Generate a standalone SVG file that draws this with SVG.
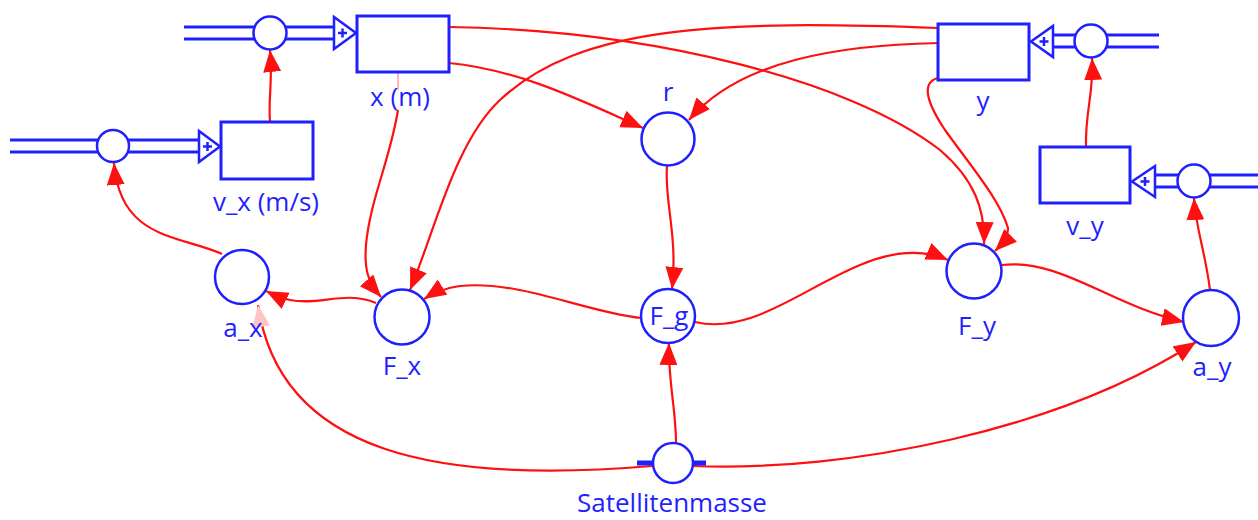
<svg xmlns="http://www.w3.org/2000/svg" width="1258" height="520" viewBox="0 0 1258 520">
<style>
.lbl{font-family:"Open Sans","Noto Sans","DejaVu Sans",sans-serif;font-size:26px;fill:#1f1fff;text-anchor:middle}
.box{fill:#fff;stroke:#1f1fff;stroke-width:3}
.aux{fill:#fff;stroke:#1f1fff;stroke-width:2.5}
.pipeo{fill:none;stroke:#1f1fff;stroke-width:15}
.pipei{fill:none;stroke:#fff;stroke-width:9}
.tri{fill:#fff;stroke:#1f1fff;stroke-width:2.5;stroke-linejoin:miter}
.plus{stroke:#1f1fff;stroke-width:2.5;fill:none}
.con{fill:none;stroke:#ff1010;stroke-width:2.2;marker-end:url(#arr)}
</style>
<defs>
<marker id="arr" markerUnits="userSpaceOnUse" markerWidth="24" markerHeight="20" viewBox="0 0 24 20" refX="22" refY="9" orient="auto"><path d="M0,0 L22,9 L0,18 z" fill="#ff1010"/></marker>
<marker id="arrp" markerUnits="userSpaceOnUse" markerWidth="24" markerHeight="20" viewBox="0 0 24 20" refX="22" refY="9" orient="auto"><path d="M0,0 L22,9 L0,18 z" fill="#ffc4c4"/></marker>
</defs>
<rect width="1258" height="520" fill="#fff"/>

<g id="connectors">
<path class="con" d="M 222 254 C 180 235, 120 240, 114 163"/>
<path class="con" d="M 270 122 C 268 100, 273 80, 270 50"/>
<path class="con" d="M 1210 290 C 1205 250, 1196 230, 1194 198"/>
<path class="con" d="M 1086 147 C 1085 110, 1094 95, 1092 58"/>
<path class="con" d="M 449 63 C 520 70, 580 100, 643 128"/>
<path class="con" d="M 938 43 C 840 45, 740 60, 689 120"/>
<path class="con" d="M 449 27 C 650 30, 850 80, 940 150 C 975 180, 985 210, 984 244"/>
<path class="con" d="M 938 78 C 922 82, 925 100, 945 130 C 970 165, 1000 200, 1008 228 C 1008 238, 1002 244, 995 251"/>
<path class="con" d="M 938 28 C 720 20, 580 25, 500 100 C 455 142, 435 230, 410 290"/>
<path d="M 398 72 L 398 90" fill="none" stroke="#ff1010" stroke-width="2" opacity="0.3"/>
<path class="con" d="M 398 110 C 390 160, 370 200, 366 245 C 364 270, 368 282, 381 297"/>
<path class="con" d="M 641 318 C 585 312, 520 280, 460 286 C 445 288, 435 292, 424 299"/>
<path class="con" d="M 376 303 C 345 290, 320 306, 290 300 C 280 298, 274 295, 266 291"/>
<path class="con" d="M 667 166 C 664 200, 678 235, 672 289"/>
<path class="con" d="M 676 443 C 676 410, 668 380, 669 343"/>
<path class="con" d="M 695 322 C 750 335, 800 290, 860 265 C 895 250, 925 250, 948 260"/>
<path class="con" d="M 1002 265 C 1060 258, 1110 305, 1184 322"/>
<path class="con" d="M 693 466 C 850 472, 1060 430, 1196 342"/>
<path class="con" style="marker-end:url(#arrp)" d="M 652 466 C 440 484, 280 455, 258 305"/>
</g>

<g id="flow_x">
<path class="pipeo" d="M 184 33 H 334"/>
<path class="pipei" d="M 184 33 H 334"/>
<polygon class="tri" points="334,17 334,49 356,33"/>
<path class="plus" d="M 338 33 H 347 M 342.5 28.5 V 37.5"/>
<circle class="aux" cx="270" cy="33" r="16.5"/>
</g>
<g id="flow_vx">
<path class="pipeo" d="M 10 146 H 199"/>
<path class="pipei" d="M 10 146 H 199"/>
<polygon class="tri" points="199,131 199,162 220,146.5"/>
<path class="plus" d="M 203 146.5 H 212 M 207.5 142 V 151"/>
<circle class="aux" cx="113" cy="146" r="16"/>
</g>
<g id="flow_y">
<path class="pipeo" d="M 1053 41 H 1159"/>
<path class="pipei" d="M 1053 41 H 1159"/>
<polygon class="tri" points="1053,26 1053,57 1031,41.5"/>
<path class="plus" d="M 1039.5 41.5 H 1048.5 M 1044 37 V 46"/>
<circle class="aux" cx="1091" cy="41" r="16.5"/>
</g>
<g id="flow_vy">
<path class="pipeo" d="M 1155 181 H 1258"/>
<path class="pipei" d="M 1155 181 H 1258"/>
<polygon class="tri" points="1155,166 1155,197 1132,181.5"/>
<path class="plus" d="M 1140.5 181.5 H 1149.5 M 1145 177 V 186"/>
<circle class="aux" cx="1194" cy="181" r="16.5"/>
</g>

<g id="x">
<rect class="box" x="357" y="16" width="92" height="56"/>
<text class="lbl" x="400" y="106">x (m)</text>
</g>
<g id="y">
<rect class="box" x="938" y="24" width="91" height="56"/>
<text class="lbl" x="983" y="110">y</text>
</g>
<g id="v_x">
<rect class="box" x="221" y="122" width="92" height="57"/>
<text class="lbl" x="266" y="211">v_x (m/s)</text>
</g>
<g id="v_y">
<rect class="box" x="1040" y="147" width="90" height="56"/>
<text class="lbl" x="1085" y="235">v_y</text>
</g>
<g id="r">
<circle class="aux" cx="668" cy="139" r="26.5"/>
<text class="lbl" x="668" y="101">r</text>
</g>
<g id="a_x">
<circle class="aux" cx="242" cy="277" r="27"/>
<text class="lbl" x="243" y="337">a_x</text>
</g>
<g id="F_x">
<circle class="aux" cx="402" cy="317" r="27.5"/>
<text class="lbl" x="402" y="375">F_x</text>
</g>
<g id="F_g">
<circle class="aux" cx="668" cy="316" r="27"/>
<text class="lbl" x="669" y="325">F_g</text>
</g>
<g id="F_y">
<circle class="aux" cx="974" cy="271" r="27.5"/>
<text class="lbl" x="977" y="335">F_y</text>
</g>
<g id="a_y">
<circle class="aux" cx="1211" cy="318" r="28"/>
<text class="lbl" x="1212" y="376">a_y</text>
</g>
<g id="Satellitenmasse">
<path d="M 637 463 H 653 M 692 463 H 706" stroke="#1f1fff" stroke-width="5" fill="none"/>
<circle class="aux" cx="673" cy="463" r="20"/>
<text class="lbl" x="672" y="512">Satellitenmasse</text>
</g>
</svg>
